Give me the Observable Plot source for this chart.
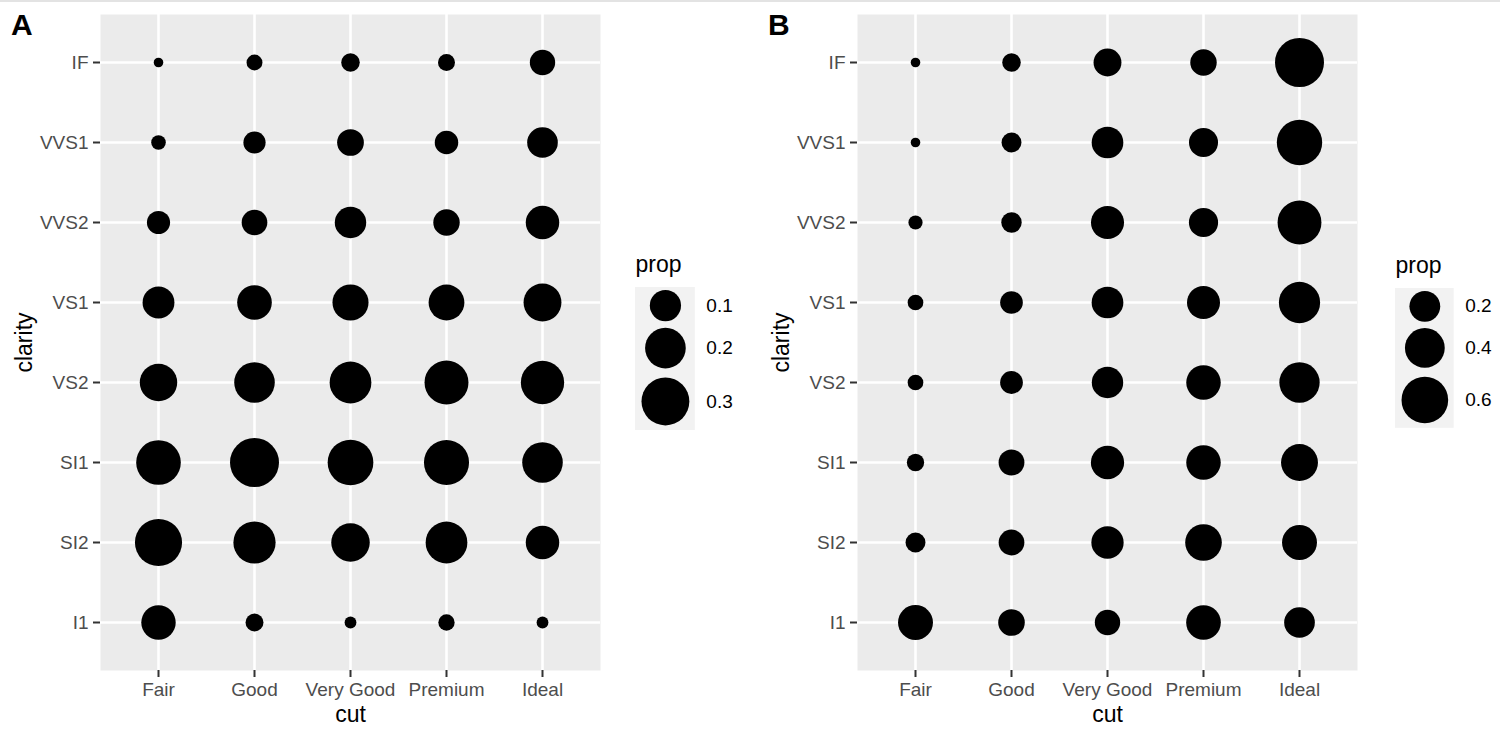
<!DOCTYPE html>
<html>
<head>
<meta charset="utf-8">
<script src="https://cdn.jsdelivr.net/npm/d3@7"></script>
<script src="https://cdn.jsdelivr.net/npm/@observablehq/plot@0.6"></script>
<style>
  body { margin: 0; background: #ffffff; font-family: "Liberation Sans", Arial, Helvetica, sans-serif; }
  #root { position: relative; width: 1500px; height: 730px; overflow: hidden; background: #fff; }
  #topline { position: absolute; left: 0; top: 0; width: 1500px; height: 2px; background: #e3e3e3; }
  .abs { position: absolute; }
  .tag { position: absolute; font-weight: bold; font-size: 30px; line-height: 30px; color: #000; }
  svg { max-width: none !important; overflow: visible; }
</style>
</head>
<body>
<div id="root"><div id="topline"></div></div>
<script>
// ---------- data ----------
const cuts = ["Fair", "Good", "Very Good", "Premium", "Ideal"];
const clarities = ["I1", "SI2", "SI1", "VS2", "VS1", "VVS2", "VVS1", "IF"];

// Panel A: proportion of each clarity within a cut (rows follow `cuts`, columns follow `clarities`)
const propA = [
  [0.130, 0.289, 0.253, 0.162, 0.106, 0.043, 0.011, 0.006], // Fair
  [0.020, 0.220, 0.318, 0.199, 0.132, 0.058, 0.038, 0.014], // Good
  [0.007, 0.174, 0.268, 0.214, 0.147, 0.102, 0.065, 0.022], // Very Good
  [0.015, 0.214, 0.259, 0.243, 0.144, 0.063, 0.045, 0.017], // Premium
  [0.007, 0.121, 0.199, 0.235, 0.167, 0.121, 0.095, 0.056]  // Ideal
];

// Panel B: proportion of each cut within a clarity (rows follow `cuts`, columns follow `clarities`)
const propB = [
  [0.283, 0.051, 0.031, 0.021, 0.021, 0.014, 0.005, 0.005], // Fair
  [0.130, 0.118, 0.119, 0.080, 0.079, 0.056, 0.051, 0.040], // Good
  [0.113, 0.228, 0.248, 0.211, 0.217, 0.244, 0.216, 0.150], // Very Good
  [0.277, 0.321, 0.274, 0.274, 0.243, 0.172, 0.169, 0.128], // Premium
  [0.197, 0.283, 0.328, 0.414, 0.439, 0.514, 0.560, 0.677]  // Ideal
];

const legendA = [0.1, 0.2, 0.3];
const legendB = [0.2, 0.4, 0.6];

// ---------- helpers ----------
const FONT = "'Liberation Sans', Arial, Helvetica, sans-serif";
const rMin = 4.8, rMax = 24.5;

function table(props) {
  const rows = [];
  cuts.forEach((c, i) => clarities.forEach((k, j) => rows.push({cut: c, clarity: k, prop: props[i][j]})));
  return rows;
}

// ggplot-like area scale: size = min + (max-min) * sqrt(rescaled value)
function rOpts(values) {
  const [lo, hi] = d3.extent(values);
  return {
    type: "linear", domain: [0, 1], range: [rMin, rMax], clamp: true,
    transform: v => Math.sqrt(Math.max(0, (v - lo) / (hi - lo)))
  };
}
function rOf(v, values) {
  const [lo, hi] = d3.extent(values);
  return rMin + (rMax - rMin) * Math.sqrt(Math.max(0, (v - lo) / (hi - lo)));
}

function panel(props) {
  const data = table(props);
  const values = data.map(d => d.prop);
  return Plot.plot({
    width: 620, height: 730,
    marginLeft: 100, marginRight: 20, marginTop: 14, marginBottom: 60,
    style: {fontFamily: FONT, fontSize: "19px", background: "transparent", color: "#4d4d4d"},
    x: {type: "point", domain: cuts, padding: 0.6},
    y: {type: "point", domain: clarities, padding: 0.6, reverse: true},
    r: rOpts(values),
    marks: [
      Plot.frame({fill: "#ebebeb", stroke: "none"}),
      Plot.gridX({stroke: "#ffffff", strokeOpacity: 1, strokeWidth: 2.6}),
      Plot.gridY({stroke: "#ffffff", strokeOpacity: 1, strokeWidth: 2.6}),
      Plot.axisX({tickSize: 7, tickPadding: 5, stroke: "#333333", fill: "#4d4d4d", strokeWidth: 2, label: null, fontSize: 19}),
      Plot.axisY({tickSize: 7, tickPadding: 5, stroke: "#333333", fill: "#4d4d4d", strokeWidth: 2, label: null, fontSize: 19}),
      Plot.dot(data, {x: "cut", y: "clarity", r: "prop", fill: "#000000", stroke: "none"}),
      Plot.text(["cut"], {text: d => d, frameAnchor: "bottom", dy: 44.6, fontSize: 23, fill: "#000000", lineAnchor: "middle", textAnchor: "middle"}),
      Plot.text(["clarity"], {text: d => d, frameAnchor: "left", dx: -75.4, rotate: -90, fontSize: 23, fill: "#000000", lineAnchor: "middle", textAnchor: "middle"})
    ]
  });
}

function legendPlot(ticks, props) {
  const values = table(props).map(d => d.prop);
  const radii = ticks.map(v => rOf(v, values));
  const keyW = 2 * d3.max(radii) + 12;
  const heights = radii.map(r => 1.32 * 2 * r - 5);
  const top = 37, boxLeft = 5;
  let acc = top;
  const rows = ticks.map((v, i) => { const cy = acc + heights[i] / 2; acc += heights[i]; return {v, cy}; });
  return Plot.plot({
    width: 140, height: acc + 10, margin: 0,
    style: {fontFamily: FONT, fontSize: "19px", background: "transparent", color: "#000"},
    x: {type: "identity", axis: null},
    y: {type: "identity", axis: null},
    r: rOpts(values),
    marks: [
      Plot.rect([0], {x1: boxLeft, x2: boxLeft + keyW, y1: top, y2: acc, fill: "#f2f2f2"}),
      Plot.dot(rows, {x: boxLeft + keyW / 2, y: "cy", r: "v", fill: "#000000", stroke: "none"}),
      Plot.text(rows, {x: boxLeft + keyW + 11, y: "cy", text: d => d.v.toFixed(1), textAnchor: "start", lineAnchor: "middle", fontSize: 19, fill: "#000000"}),
      Plot.text(["prop"], {x: boxLeft, y: 14.6, text: d => d, textAnchor: "start", lineAnchor: "middle", fontSize: 23, fill: "#000000"})
    ]
  });
}

// ---------- layout ----------
const root = document.getElementById("root");
function place(node, left, top) {
  const div = document.createElement("div");
  div.className = "abs";
  div.style.left = left + "px";
  div.style.top = top + "px";
  div.appendChild(node);
  root.appendChild(div);
}
function tag(txt, left, top) {
  const d = document.createElement("div");
  d.className = "tag";
  d.style.left = left + "px";
  d.style.top = top + "px";
  d.textContent = txt;
  root.appendChild(d);
}

place(panel(propA), 0, 0);
place(panel(propB), 757, 0);
place(legendPlot(legendA, propA), 630, 250);
place(legendPlot(legendB, propB), 1390, 251);
tag("A", 11, 10);
tag("B", 768, 10);
</script>
</body>
</html>
